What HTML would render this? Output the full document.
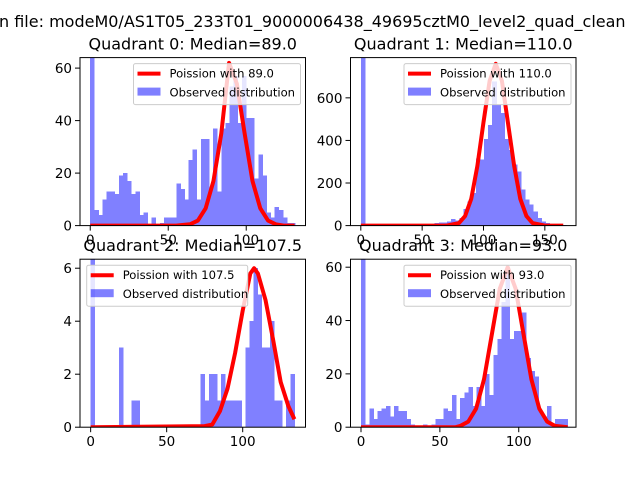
<!DOCTYPE html>
<html><head><meta charset="utf-8"><style>
body{margin:0;background:#fff;}
svg{display:block;font-family:"DejaVu Sans","Liberation Sans",sans-serif;}
</style></head><body>
<svg id="fig" width="640" height="480" viewBox="0 0 640 480">
<rect width="640" height="480" fill="#fff"/>
<text x="-1" y="27" font-size="16" fill="#000">n file: modeM0/AS1T05_233T01_9000006438_49695cztM0_level2_quad_clean</text>
</svg>
<script>
const q0Counts=[70,6,4,10,13,13,12,19,20,17,12,13,4,5,0,3,0,1,3,3,3,16,14,10,25,29,10,33,33,14,37,13,37,39,53,57,39,57,41,41,18,27,19,5,3,7,6,3,1,1];
const q1Counts=[900,0,0,0,0,0,0,0,0,0,0,0,0,0,0,0,0,0,12,15,15,20,30,25,35,78,114,153,315,310,406,473,677,567,528,406,356,286,255,169,122,98,67,36,20,12,8,5,2,2];
const q2Counts=[7,0,0,0,0,0,0,3,0,0,1,1,0,0,0,0,0,0,0,0,0,0,0,0,0,0,0,2,1,2,2,1,2,1,1,1,1,0,3,4,6,5,3,3,4,1,1,0,1,2];
const q3Counts=[70,1,7,3,6,7,8,4,8,6,6,3,1,0,0,1,0,1,3,3,7,6,12,3,11,13,15,8,15,8,20,12,27,33,47,60,33,36,36,43,26,21,19,6,4,8,1,3,3,3];
const q0CurveX=[0,55,64,69,74,79,84,89,94,99,104,109,114,119,124,131];
const q0CurveY=[0,0,0.5,1.9,6.6,17,35,62,54,35,17,6.6,1.9,0.5,0,0];
const q1CurveX=[0,70,80,85,90,95,100,105,110,115,120,125,130,135,140,150,165];
const q1CurveY=[0,0,12,45,125,280,485,680,760,680,480,280,125,45,12,0,0];
const q2CurveX=[0,75,80,85,90,95,100,105,107.5,110,115,120,125,130,134];
const q2CurveY=[0,0.04,0.1,0.6,1.45,2.8,4.4,5.8,6,5.8,4.8,3.3,1.7,0.8,0.3];
const q3CurveX=[0,60,63,68,73,78,83,88,93,98,103,108,113,118,123,131];
const q3CurveY=[0,0,0.5,2.1,7,18,35,52,60,52,35,18,7,2.1,0.5,0];
const titles=["Quadrant 0: Median=89.0","Quadrant 1: Median=110.0","Quadrant 2: Median=107.5","Quadrant 3: Median=93.0"];
const legendLabels=["Poission with 89.0","Poission with 110.0","Poission with 107.5","Poission with 93.0"];
const q0XTicks=[0,50,100], q0YTicks=[0,20,40,60];
const q1XTicks=[0,50,100,150], q1YTicks=[0,200,400,600];
const q2XTicks=[0,50,100], q2YTicks=[0,2,4,6];
const q3XTicks=[0,50,100], q3YTicks=[0,20,40,60];

const NS="http://www.w3.org/2000/svg";
const fig=document.getElementById('fig');
function mk(tag,attrs,parent){const e=document.createElementNS(NS,tag);for(const k in attrs)e.setAttribute(k,attrs[k]);(parent||fig).appendChild(e);return e;}

const panels=[
 {box:[80,57.6,225.5,168],xr:[-6.57,138],yr:[0,64],range:[0,131.4],counts:q0Counts,cx:q0CurveX,cy:q0CurveY,xt:q0XTicks,yt:q0YTicks,leg:"right"},
 {box:[350.5,57.6,225.5,168],xr:[-8.4,175.4],yr:[0,789],range:[0,167.4],counts:q1Counts,cx:q1CurveX,cy:q1CurveY,xt:q1XTicks,yt:q1YTicks,leg:"right"},
 {box:[80,259.2,225.5,168],xr:[-7.0,141.3],yr:[0,6.34],range:[0,134],counts:q2Counts,cx:q2CurveX,cy:q2CurveY,xt:q2XTicks,yt:q2YTicks,leg:"left"},
 {box:[350.5,259.2,225.5,168],xr:[-6.66,136.3],yr:[0,63],range:[0,131],counts:q3Counts,cx:q3CurveX,cy:q3CurveY,xt:q3XTicks,yt:q3YTicks,leg:"right"}
];

panels.forEach((p,i)=>{
 const [L,T,W,H]=p.box;
 const g=mk('g',{});
 
 
 const sx=v=>L+(v-p.xr[0])/(p.xr[1]-p.xr[0])*W;
 const sy=v=>T+H-(v-p.yr[0])/(p.yr[1]-p.yr[0])*H;
 const clipId='clip'+i;
 const cp=mk('clipPath',{id:clipId},g);
 mk('rect',{x:L,y:T,width:W,height:H},cp);
 const plot=mk('g',{'clip-path':'url(#'+clipId+')'},g);
 const n=p.counts.length, bw=(p.range[1]-p.range[0])/n;
 p.counts.forEach((c,k)=>{
  if(c<=0)return;
  const x0=sx(p.range[0]+k*bw), x1=sx(p.range[0]+(k+1)*bw);
  const r=mk('rect',{x:x0,y:sy(c),width:x1-x0+0.4,height:sy(0)-sy(c),fill:'#8080ff','shape-rendering':'crispEdges'},plot);
  
  
 });
 const pts=p.cx.map((x,k)=>sx(x).toFixed(2)+','+sy(p.cy[k]).toFixed(2)).join(' ');
 const line=mk('polyline',{points:pts,fill:'none',stroke:'#ff0000','stroke-width':4,'stroke-linejoin':'round'},plot);
 
 
 const fr=mk('rect',{x:L,y:T,width:W,height:H,fill:'none',stroke:'#000','stroke-width':1},g);
 
 
 p.xt.forEach(t=>{
  const x=sx(t);
  mk('line',{x1:x,y1:T+H,x2:x,y2:T+H+5,stroke:'#000','stroke-width':1},g);
  const tx=mk('text',{x:x,y:T+H+19,'font-size':13.5,'text-anchor':'middle'},g);
  tx.textContent=t;
  
  
 });
 p.yt.forEach(t=>{
  const y=sy(t);
  mk('line',{x1:L-5,y1:y,x2:L,y2:y,stroke:'#000','stroke-width':1},g);
  const tx=mk('text',{x:L-8,y:y+5,'font-size':13.5,'text-anchor':'end'},g);
  tx.textContent=t;
  
  
 });
 const tt=mk('text',{x:L+W/2,y:T-8,'font-size':16,'text-anchor':'middle'},g);
 tt.textContent=titles[i];
 
 
 const lw=i===2?161:167, lh=41;
 const lx=p.leg==="right"?L+W-lw-5:L+6.7, ly=T+6;
 const lg=mk('g',{},g);
 
 
 mk('rect',{x:lx,y:ly,width:lw,height:lh,rx:2,fill:'#fff','fill-opacity':0.8,stroke:'#cccccc','stroke-width':1},lg);
 mk('line',{x1:lx+4,y1:ly+10,x2:lx+27,y2:ly+10,stroke:'#ff0000','stroke-width':4},lg);
 const t1=mk('text',{x:lx+36,y:ly+14,'font-size':11.6},lg);
 t1.textContent=legendLabels[i];
 
 
 mk('rect',{x:lx+4,y:ly+24,width:23,height:8,fill:'#0000ff','fill-opacity':0.5},lg);
 const t2=mk('text',{x:lx+36,y:ly+33,'font-size':11.6},lg);
 t2.textContent="Observed distribution";
 
 
});
</script>
</body></html>
